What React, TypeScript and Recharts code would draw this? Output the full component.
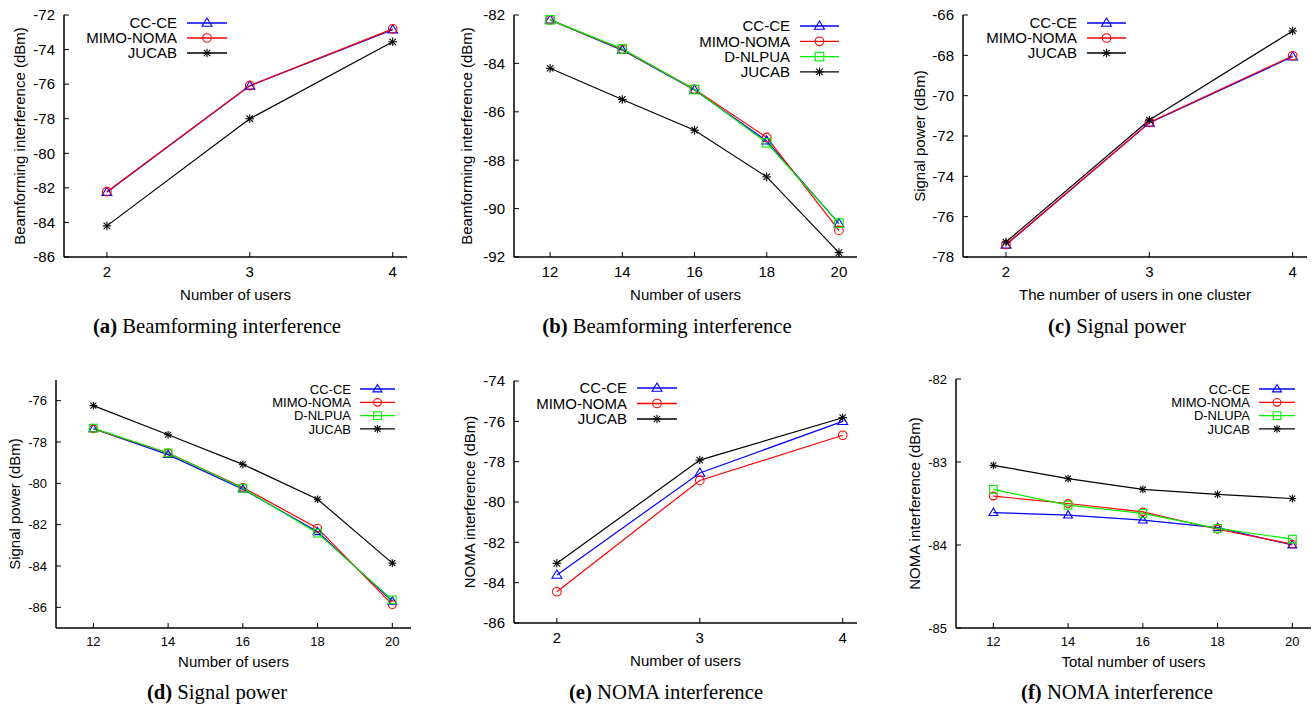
import React from 'react';
import { LineChart, Line, XAxis, YAxis, Legend } from 'recharts';

const SANS = '"Liberation Sans", Arial, Helvetica, sans-serif';
const SERIF = '"Liberation Serif", "Times New Roman", serif';

// x categories
const usersFew = [2, 3, 4];
const usersMany = [12, 14, 16, 18, 20];

// (a) Beamforming interference vs number of users (2..4)
const ccceA = [-82.25, -76.1, -72.85];
const mimoA = [-82.22, -76.08, -72.8];
const jucabA = [-84.2, -78.0, -73.55];

// (b) Beamforming interference vs number of users (12..20)
const ccceB = [-82.2, -83.45, -85.1, -87.2, -90.62];
const mimoB = [-82.2, -83.42, -85.07, -87.06, -90.9];
const dnlpuaB = [-82.2, -83.4, -85.08, -87.28, -90.6];
const jucabB = [-84.2, -85.49, -86.76, -88.69, -91.82];

// (c) Signal power vs users in one cluster
const ccceC = [-77.4, -71.35, -68.07];
const mimoC = [-77.38, -71.33, -68.02];
const jucabC = [-77.26, -71.21, -66.79];

// (d) Signal power vs number of users
const ccceD = [-77.36, -78.61, -80.28, -82.34, -85.71];
const mimoD = [-77.36, -78.53, -80.2, -82.17, -85.87];
const dnlpuaD = [-77.33, -78.53, -80.24, -82.41, -85.64];
const jucabD = [-76.24, -77.65, -79.08, -80.77, -83.86];

// (e) NOMA interference vs number of users
const ccceE = [-83.62, -78.56, -76.0];
const mimoE = [-84.45, -78.93, -76.69];
const jucabE = [-83.04, -77.92, -75.82];

// (f) NOMA interference vs total number of users
const ccceF = [-83.61, -83.64, -83.7, -83.79, -84.0];
const mimoF = [-83.41, -83.5, -83.6, -83.81, -83.99];
const dnlupaF = [-83.33, -83.52, -83.62, -83.8, -83.93];
const jucabF = [-83.04, -83.2, -83.33, -83.39, -83.44];

// y tick labels
const ticksA = [-86, -84, -82, -80, -78, -76, -74, -72];
const ticksB = [-92, -90, -88, -86, -84, -82];
const ticksC = [-78, -76, -74, -72, -70, -68, -66];
const ticksD = [-86, -84, -82, -80, -78, -76];
const ticksE = [-86, -84, -82, -80, -78, -76, -74];
const ticksF = [-85, -84, -83, -82];

type Shape = 'triangle' | 'circle' | 'square' | 'star';
type Series = { key: string; name: string; color: string; shape: Shape; values: number[] };

const BLUE = '#0000ff';
const RED = '#ff0000';
const GREEN = '#00ee00';
const BLACK = '#000000';

const Marker = ({ cx, cy, shape, color, k = 1 }: { cx: number; cy: number; shape: Shape; color: string; k?: number }) => {
  const r = 4.3 * k;
  if (shape === 'circle') {
    return <circle cx={cx} cy={cy} r={r} fill="none" stroke={color} strokeWidth={1.1} />;
  }
  if (shape === 'square') {
    return <rect x={cx - r} y={cy - r} width={2 * r} height={2 * r} fill="none" stroke={color} strokeWidth={1.1} />;
  }
  if (shape === 'triangle') {
    const w = r * 1.15;
    return (
      <polygon
        points={`${cx},${cy - w} ${cx - w},${cy + r * 0.75} ${cx + w},${cy + r * 0.75}`}
        fill="none"
        stroke={color}
        strokeWidth={1.1}
      />
    );
  }
  const d = r * 0.75;
  return (
    <g stroke={color} strokeWidth={1.1}>
      <line x1={cx - r} y1={cy} x2={cx + r} y2={cy} />
      <line x1={cx} y1={cy - r} x2={cx} y2={cy + r} />
      <line x1={cx - d} y1={cy - d} x2={cx + d} y2={cy + d} />
      <line x1={cx - d} y1={cy + d} x2={cx + d} y2={cy - d} />
    </g>
  );
};

interface PanelProps {
  plot: [number, number, number, number]; // left, top, right, bottom (page px)
  xs: number[];
  xDomain: [number, number];
  yDomain: [number, number];
  yTicks: number[];
  series: Series[];
  xTitle: string;
  yTitle: string;
  tag: string;
  caption: string;
  captionX: number;
  captionY: number;
  legend: { right: number; top: number; step: number; len: number };
  font: number;
  xTitleGap: number;
  yTitleGap: number;
}

const AXIS_W = 50;
const AXIS_H = 50;

const Panel = (p: PanelProps) => {
  const [pl, pt, pr, pb] = p.plot;
  const chartLeft = pl - 60;
  const chartTop = pt - 20;
  const width = pr - pl + 80;
  const height = pb - pt + 80;
  const k = p.font < 15 ? 0.9 : 1;

  const rows = p.xs.map((x, i) => {
    const row: Record<string, number> = { x };
    p.series.forEach((s) => {
      row[s.key] = s.values[i];
    });
    return row;
  });

  const renderLegend = () => {
    const lx = p.legend.right - chartLeft;
    const ly = p.legend.top - chartTop;
    const gap = p.font < 15 ? 9 : 10;
    return (
      <svg width={width} height={height} style={{ overflow: 'visible' }}>
        {p.series.map((s, i) => {
          const y = ly + i * p.legend.step;
          const x0 = lx + gap;
          const x1 = x0 + p.legend.len;
          return (
            <g key={s.key}>
              <text x={lx} y={y} dy="0.36em" textAnchor="end" fontSize={p.font} fontFamily={SANS} fill="#000">
                {s.name}
              </text>
              <line x1={x0} y1={y} x2={x1} y2={y} stroke={s.color} strokeWidth={1.3} />
              <Marker cx={(x0 + x1) / 2} cy={y} shape={s.shape} color={s.color} k={k} />
            </g>
          );
        })}
      </svg>
    );
  };

  return (
    <>
      <div style={{ position: 'absolute', left: chartLeft, top: chartTop, width, height }}>
        <LineChart
          width={width}
          height={height}
          data={rows}
          margin={{ top: 20, left: 60 - AXIS_W, right: 20, bottom: 60 - AXIS_H }}
        >
          <XAxis
            type="number"
            dataKey="x"
            domain={p.xDomain}
            ticks={p.xs}
            allowDataOverflow
            height={AXIS_H}
            axisLine={{ stroke: '#000', strokeWidth: 1.5 }}
            tickLine={{ stroke: '#000', strokeWidth: 1 }}
            tickSize={-5}
            tickMargin={14}
            tick={{ fill: '#000', fontSize: p.font, fontFamily: SANS }}
            label={{
              value: p.xTitle,
              position: 'insideBottom',
              offset: AXIS_H - p.xTitleGap - 5.3,
              style: { fill: '#000', fontSize: 15, fontFamily: SANS },
            }}
          />
          <YAxis
            type="number"
            domain={p.yDomain}
            ticks={p.yTicks}
            allowDataOverflow
            width={AXIS_W}
            axisLine={{ stroke: '#000', strokeWidth: 1.5 }}
            tickLine={{ stroke: '#000', strokeWidth: 1 }}
            tickSize={-5}
            tickMargin={14}
            tick={{ fill: '#000', fontSize: p.font, fontFamily: SANS }}
            label={{
              value: p.yTitle,
              angle: -90,
              position: 'insideLeft',
              offset: AXIS_W - p.yTitleGap,
              style: { textAnchor: 'middle', fill: '#000', fontSize: 15, fontFamily: SANS },
            }}
          />
          <Legend
            layout="vertical"
            align="center"
            verticalAlign="middle"
            content={renderLegend}
            wrapperStyle={{ left: 0, top: 0, width, height, pointerEvents: 'none' }}
          />
          {p.series.map((s) => (
            <Line
              key={s.key}
              type="linear"
              dataKey={s.key}
              name={s.name}
              stroke={s.color}
              strokeWidth={1.2}
              isAnimationActive={false}
              activeDot={false}
              dot={(d: any) => (
                <Marker key={`${s.key}-${d.index}`} cx={d.cx} cy={d.cy} shape={s.shape} color={s.color} k={k} />
              )}
            />
          ))}
        </LineChart>
      </div>
      <div
        style={{
          position: 'absolute',
          left: p.captionX - 200,
          top: p.captionY - 12,
          width: 400,
          height: 24,
          lineHeight: '24px',
          textAlign: 'center',
          fontFamily: SERIF,
          fontSize: 20.7,
          color: '#000',
          whiteSpace: 'nowrap',
        }}
      >
        <b>{p.tag}</b> {p.caption}
      </div>
    </>
  );
};

const mk = (key: string, name: string, color: string, shape: Shape, values: number[]): Series => ({
  key,
  name,
  color,
  shape,
  values,
});

export default function App() {
  return (
    <div
      style={{
        position: 'absolute',
        left: 0,
        top: 0,
        width: 1314,
        height: 705,
        background: '#fff',
        overflow: 'hidden',
      }}
    >
      <Panel
        plot={[64, 15, 407, 257]}
        xs={usersFew}
        xDomain={[1.7, 4.1]}
        yDomain={[-86, -72]}
        yTicks={ticksA}
        series={[
          mk('ccce', 'CC-CE', BLUE, 'triangle', ccceA),
          mk('mimo', 'MIMO-NOMA', RED, 'circle', mimoA),
          mk('jucab', 'JUCAB', BLACK, 'star', jucabA),
        ]}
        xTitle="Number of users"
        yTitle="Beamforming interference (dBm)"
        tag="(a)"
        caption="Beamforming interference"
        captionX={217}
        captionY={326}
        legend={{ right: 177, top: 23, step: 15, len: 40 }}
        font={15}
        xTitleGap={38}
        yTitleGap={44}
      />
      <Panel
        plot={[514, 15, 857, 257]}
        xs={usersMany}
        xDomain={[11, 20.5]}
        yDomain={[-92, -82]}
        yTicks={ticksB}
        series={[
          mk('ccce', 'CC-CE', BLUE, 'triangle', ccceB),
          mk('mimo', 'MIMO-NOMA', RED, 'circle', mimoB),
          mk('dnlpua', 'D-NLPUA', GREEN, 'square', dnlpuaB),
          mk('jucab', 'JUCAB', BLACK, 'star', jucabB),
        ]}
        xTitle="Number of users"
        yTitle="Beamforming interference (dBm)"
        tag="(b)"
        caption="Beamforming interference"
        captionX={667}
        captionY={326}
        legend={{ right: 790, top: 26, step: 15.3, len: 39 }}
        font={15}
        xTitleGap={38}
        yTitleGap={47}
      />
      <Panel
        plot={[963, 15, 1307, 257]}
        xs={usersFew}
        xDomain={[1.7, 4.1]}
        yDomain={[-78, -66]}
        yTicks={ticksC}
        series={[
          mk('ccce', 'CC-CE', BLUE, 'triangle', ccceC),
          mk('mimo', 'MIMO-NOMA', RED, 'circle', mimoC),
          mk('jucab', 'JUCAB', BLACK, 'star', jucabC),
        ]}
        xTitle="The number of users in one cluster"
        yTitle="Signal power (dBm)"
        tag="(c)"
        caption="Signal power"
        captionX={1117}
        captionY={326}
        legend={{ right: 1077, top: 23, step: 15, len: 39 }}
        font={15}
        xTitleGap={38}
        yTitleGap={43}
      />
      <Panel
        plot={[56, 380, 411, 628]}
        xs={usersMany}
        xDomain={[11, 20.5]}
        yDomain={[-87, -75]}
        yTicks={ticksD}
        series={[
          mk('ccce', 'CC-CE', BLUE, 'triangle', ccceD),
          mk('mimo', 'MIMO-NOMA', RED, 'circle', mimoD),
          mk('dnlpua', 'D-NLPUA', GREEN, 'square', dnlpuaD),
          mk('jucab', 'JUCAB', BLACK, 'star', jucabD),
        ]}
        xTitle="Number of users"
        yTitle="Signal power (dBm)"
        tag="(d)"
        caption="Signal power"
        captionX={217}
        captionY={692}
        legend={{ right: 351, top: 389, step: 13.3, len: 35 }}
        font={13}
        xTitleGap={34}
        yTitleGap={41}
      />
      <Panel
        plot={[514, 381, 857, 623]}
        xs={usersFew}
        xDomain={[1.7, 4.1]}
        yDomain={[-86, -74]}
        yTicks={ticksE}
        series={[
          mk('ccce', 'CC-CE', BLUE, 'triangle', ccceE),
          mk('mimo', 'MIMO-NOMA', RED, 'circle', mimoE),
          mk('jucab', 'JUCAB', BLACK, 'star', jucabE),
        ]}
        xTitle="Number of users"
        yTitle="NOMA interference (dBm)"
        tag="(e)"
        caption="NOMA interference"
        captionX={666}
        captionY={692}
        legend={{ right: 627, top: 388, step: 15.5, len: 40 }}
        font={15}
        xTitleGap={38}
        yTitleGap={44}
      />
      <Panel
        plot={[956, 379, 1311, 628]}
        xs={usersMany}
        xDomain={[11, 20.5]}
        yDomain={[-85, -82]}
        yTicks={ticksF}
        series={[
          mk('ccce', 'CC-CE', BLUE, 'triangle', ccceF),
          mk('mimo', 'MIMO-NOMA', RED, 'circle', mimoF),
          mk('dnlupa', 'D-NLUPA', GREEN, 'square', dnlupaF),
          mk('jucab', 'JUCAB', BLACK, 'star', jucabF),
        ]}
        xTitle="Total number of users"
        yTitle="NOMA interference (dBm)"
        tag="(f)"
        caption="NOMA interference"
        captionX={1117}
        captionY={692}
        legend={{ right: 1250, top: 389, step: 13.3, len: 36 }}
        font={13}
        xTitleGap={34}
        yTitleGap={41}
      />
    </div>
  );
}
